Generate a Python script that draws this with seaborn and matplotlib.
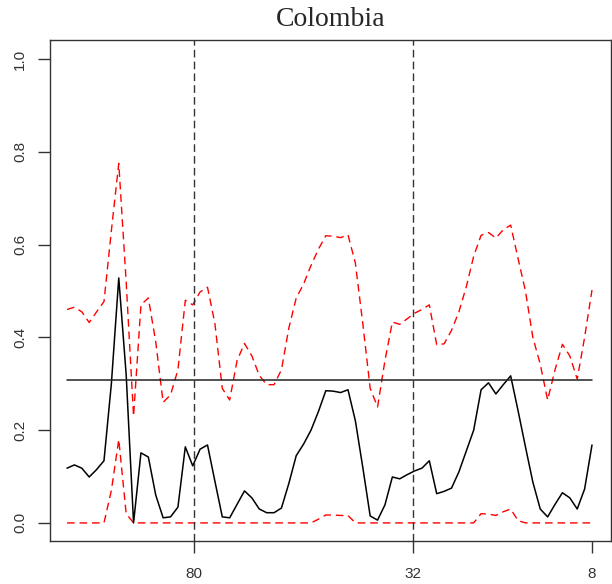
import numpy as np
import pandas as pd
import matplotlib
matplotlib.use("Agg")
import matplotlib.pyplot as plt
import seaborn as sns

# ---- data ----
estimate = [0.118, 0.125, 0.118, 0.099, 0.115, 0.134, 0.30, 0.528, 0.32, 0.0,
            0.151, 0.142, 0.060, 0.011, 0.013, 0.034, 0.164, 0.123, 0.159, 0.168,
            0.090, 0.013, 0.011, 0.040, 0.069, 0.054, 0.030, 0.022, 0.022, 0.032,
            0.085, 0.145, 0.170, 0.200, 0.240, 0.285, 0.284, 0.281, 0.287, 0.220,
            0.120, 0.015, 0.006, 0.039, 0.099, 0.095, 0.104, 0.112, 0.118, 0.134,
            0.063, 0.068, 0.075, 0.110, 0.155, 0.200, 0.287, 0.302, 0.278, 0.298,
            0.317, 0.242, 0.164, 0.088, 0.030, 0.013, 0.040, 0.065, 0.054, 0.030,
            0.073, 0.168]
upper = [0.460, 0.465, 0.455, 0.432, 0.455, 0.477, 0.630, 0.775, 0.520, 0.230,
         0.470, 0.485, 0.390, 0.260, 0.276, 0.330, 0.480, 0.470, 0.498, 0.508,
         0.430, 0.290, 0.265, 0.350, 0.387, 0.360, 0.318, 0.298, 0.298, 0.330,
         0.420, 0.485, 0.515, 0.555, 0.590, 0.619, 0.618, 0.615, 0.621, 0.560,
         0.430, 0.290, 0.250, 0.350, 0.433, 0.428, 0.440, 0.452, 0.460, 0.470,
         0.384, 0.386, 0.415, 0.455, 0.509, 0.575, 0.620, 0.626, 0.614, 0.632,
         0.642, 0.570, 0.500, 0.400, 0.342, 0.265, 0.330, 0.385, 0.360, 0.310,
         0.400, 0.502]
lower = [0.0, 0.0, 0.0, 0.0, 0.0, 0.0, 0.07, 0.18, 0.02, 0.0,
         0.0, 0.0, 0.0, 0.0, 0.0, 0.0, 0.0, 0.0, 0.0, 0.0,
         0.0, 0.0, 0.0, 0.0, 0.0, 0.0, 0.0, 0.0, 0.0, 0.0,
         0.0, 0.0, 0.0, 0.0, 0.008, 0.017, 0.017, 0.016, 0.016, 0.0,
         0.0, 0.0, 0.0, 0.0, 0.0, 0.0, 0.0, 0.0, 0.0, 0.0,
         0.0, 0.0, 0.0, 0.0, 0.0, 0.0, 0.020, 0.019, 0.016, 0.024,
         0.030, 0.005, 0.0, 0.0, 0.0, 0.0, 0.0, 0.0, 0.0, 0.0,
         0.0, 0.0]
threshold = 0.308
tick_pos = [17.2, 46.8, 71]
tick_labels = ["80", "32", "8"]
band_marks = [17.2, 46.8]
title = "Colombia"

n = len(estimate)
df = pd.DataFrame({
    "idx": np.arange(n),
    "estimate": estimate,
    "upper": upper,
    "lower": lower,
    "threshold": [threshold] * n,
})

sns.set_style("white")
plt.rcParams["font.family"] = ["Liberation Sans", "DejaVu Sans"]

fig = plt.figure(figsize=(6.12, 5.84), dpi=100)
ax = fig.add_axes([50 / 612, 1 - 541 / 584, 561 / 612, 501 / 584])

dash = (0, (5.5, 3.5))
sns.lineplot(data=df, x="idx", y="upper", ax=ax, color="#ff0000", lw=1.0, linestyle=dash)
sns.lineplot(data=df, x="idx", y="lower", ax=ax, color="#ff0000", lw=1.0, linestyle=dash)
sns.lineplot(data=df, x="idx", y="estimate", ax=ax, color="black", lw=1.1)
sns.lineplot(data=df, x="idx", y="threshold", ax=ax, color="#222222", lw=1.1)
for b in band_marks:
    ax.axvline(b, color="#333333", lw=1.0, linestyle=(0, (5.5, 3.0)))

ax.set_xlim(-2.3, 73.57)
ax.set_ylim(-0.039, 1.041)
ax.set_xticks(tick_pos)
ax.set_xticklabels(tick_labels)
ax.set_yticks([0.0, 0.2, 0.4, 0.6, 0.8, 1.0])
ax.set_yticklabels(["0.0", "0.2", "0.4", "0.6", "0.8", "1.0"], rotation=90, va="center")
ax.set_xlabel("")
ax.set_ylabel("")
for s in ax.spines.values():
    s.set_visible(True)
    s.set_color("#333333")
    s.set_linewidth(1.0)
ax.tick_params(axis="both", which="major", direction="out", length=8.5, width=1.0,
               color="#333333", labelcolor="#333333", labelsize=11,
               bottom=True, left=True)
ax.tick_params(axis="x", pad=10)
ax.tick_params(axis="y", pad=8)
ax.set_title(title, family=["Liberation Serif", "DejaVu Serif"], fontsize=20, pad=10)

fig.savefig("out.png", dpi=100)
